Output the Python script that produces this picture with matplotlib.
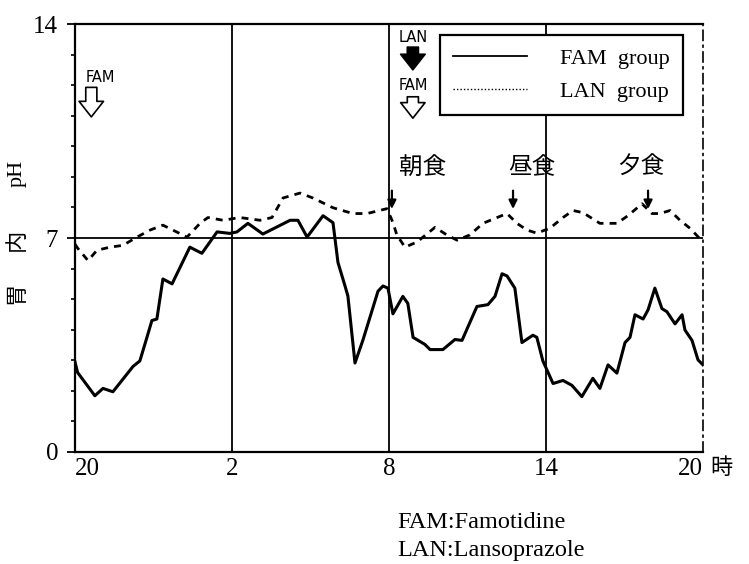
import matplotlib
matplotlib.use("Agg")
import matplotlib.pyplot as plt
from matplotlib.lines import Line2D

# ---- data (hours after 20:00) ----
fam_t = [0.0, 0.1, 0.76, 1.07, 1.45, 2.22, 2.48, 2.75, 2.94, 3.13, 3.36, 3.71, 4.39, 4.85,
         5.43, 5.92, 6.19, 6.61, 7.18, 8.22, 8.52, 8.87, 9.48, 9.86, 10.05, 10.32, 10.43,
         10.70, 11.0, 11.58, 11.77, 11.96, 12.15, 12.53, 12.72, 12.92, 13.37, 13.57, 14.06,
         14.52, 14.79, 15.36, 15.78, 16.05, 16.32, 16.51, 16.81, 17.08, 17.50, 17.65, 17.88,
         18.27, 18.65, 18.99, 19.37, 19.79, 20.06, 20.37, 20.71, 21.02, 21.21, 21.40, 21.71,
         21.90, 22.16, 22.43, 22.62, 22.93, 23.20, 23.31, 23.58, 23.81, 24.0]
fam_ph = [2.95, 2.6, 1.84, 2.08, 1.97, 2.8, 2.98, 3.75, 4.3, 4.35, 5.66, 5.5, 6.7, 6.5,
          7.2, 7.15, 7.2, 7.48, 7.13, 7.58, 7.58, 7.03, 7.73, 7.5, 6.2, 5.43, 5.1,
          2.91, 3.65, 5.26, 5.43, 5.36, 4.52, 5.09, 4.86, 3.75, 3.52, 3.35, 3.35,
          3.68, 3.65, 4.76, 4.82, 5.09, 5.83, 5.76, 5.36, 3.58, 3.82, 3.75, 2.98,
          2.24, 2.34, 2.18, 1.81, 2.41, 2.08, 2.85, 2.58, 3.58, 3.75, 4.49, 4.35,
          4.65, 5.36, 4.69, 4.59, 4.19, 4.49, 3.99, 3.65, 3.01, 2.85]

lan_t = [0.0, 0.11, 0.50, 0.84, 1.34, 1.83, 2.37, 2.87, 3.36, 3.74, 4.28, 4.78, 5.08, 5.66,
         6.30, 7.07, 7.53, 7.95, 8.60, 9.09, 9.86, 10.62, 11.16, 11.92, 12.15, 12.30, 12.61,
         13.07, 13.76, 14.21, 14.60, 15.09, 15.59, 16.13, 16.51, 16.89, 17.27, 17.65, 18.15,
         18.65, 19.03, 19.41, 20.06, 20.71, 21.13, 21.67, 22.05, 22.35, 22.74, 23.12, 23.50, 24.0]
lan_ph = [6.8, 6.66, 6.26, 6.6, 6.7, 6.76, 7.03, 7.26, 7.42, 7.26, 7.03, 7.48, 7.67, 7.58,
          7.67, 7.58, 7.67, 8.31, 8.47, 8.31, 7.99, 7.8, 7.8, 7.96, 7.51, 7.1, 6.7,
          6.87, 7.35, 7.1, 6.93, 7.1, 7.48, 7.67, 7.8, 7.48, 7.26, 7.16, 7.32,
          7.67, 7.9, 7.83, 7.48, 7.48, 7.73, 8.12, 7.8, 7.8, 7.9, 7.58, 7.32, 6.87]

x_ticks = [0, 6, 12, 18, 24]
x_labels = ["20", "2", "8", "14", "20"]
y_ticks = [0, 7, 14]
meal_labels = ["朝食", "昼食", "夕食"]
meal_times = [12.11, 16.74, 21.9]

serif = ["Liberation Serif", "Noto Sans CJK JP"]
cjk = ["Noto Sans CJK JP", "DejaVu Sans"]

fig = plt.figure(figsize=(7.49, 5.64), dpi=100)
ax = fig.add_axes([0.1001, 0.1986, 0.8385, 0.7588])
ax.set_xlim(0, 24)
ax.set_ylim(0, 14)

ax.plot(fam_t, fam_ph, color="black", lw=2.2, solid_joinstyle="round")
ax.plot(lan_t, lan_ph, color="black", lw=2.0, linestyle=(0, (2.5, 2.2)))

for xv in x_ticks[1:-1]:
    ax.axvline(xv, color="black", lw=1.3)
ax.axhline(7, color="black", lw=1.3)

for s in ["left", "top", "bottom"]:
    ax.spines[s].set_linewidth(1.6)
ax.spines["right"].set_linestyle((0, (6, 3, 1, 3)))
ax.spines["right"].set_linewidth(1.2)

ax.set_xticks(x_ticks)
ax.set_xticklabels(x_labels, family=serif, fontsize=18)
ax.tick_params(axis="x", length=0, pad=4)
xl = ax.get_xticklabels()
xl[0].set_horizontalalignment("left")
xl[-1].set_horizontalalignment("right")

ax.set_yticks(y_ticks)
ax.set_yticklabels([str(v) for v in y_ticks], family=serif, fontsize=18)
ax.set_yticks(range(0, 15), minor=True)
ax.tick_params(axis="y", which="major", length=6, width=1.3, pad=6)
ax.tick_params(axis="y", which="minor", length=3, width=1.2)

for lab, yy in zip(["胃", "内", "pH"], [0.371, 0.495, 0.650]):
    ax.text(-0.092, yy, lab, transform=ax.transAxes, rotation=90,
            ha="center", va="center", family=serif, fontsize=16)
ax.text(1.011, -0.037, "時", transform=ax.transAxes, ha="left", va="center",
        family=cjk, fontsize=16)

# legend
h1 = Line2D([], [], color="black", lw=1.3)
h2 = Line2D([], [], color="black", lw=1.0, linestyle=(0, (1, 1.5)))
leg = ax.legend([h1, h2], ["FAM  group", "LAN  group"], loc="upper left",
                bbox_to_anchor=(0.581, 0.974), fancybox=False, framealpha=1,
                edgecolor="black", prop={"family": "Liberation Serif", "size": 16},
                handlelength=3.3, handletextpad=1.5, borderpad=0.6, labelspacing=0.55,
                borderaxespad=0)
leg.get_frame().set_linewidth(1.6)

# dose annotations
def hollow(x, y0, y1, fc="white"):
    ax.annotate("", xy=(x, y1), xytext=(x, y0), xycoords="axes fraction",
                arrowprops=dict(arrowstyle="simple,head_length=0.7,head_width=1.1,tail_width=0.5",
                                fc=fc, ec="black", lw=1.2, mutation_scale=16,
                                shrinkA=0, shrinkB=0))

ax.text(0.040, 0.876, "FAM", transform=ax.transAxes, ha="center", va="center",
        family="DejaVu Sans", fontsize=10.5)
hollow(0.026, 0.852, 0.783)
ax.text(0.538, 0.968, "LAN", transform=ax.transAxes, ha="center", va="center",
        family="DejaVu Sans", fontsize=10.5)
hollow(0.538, 0.946, 0.893, fc="black")
ax.text(0.538, 0.857, "FAM", transform=ax.transAxes, ha="center", va="center",
        family="DejaVu Sans", fontsize=10.5)
hollow(0.538, 0.830, 0.780)

# meals
meal_text_x = [0.553, 0.728, 0.901]
for lab, tx, mt in zip(meal_labels, meal_text_x, meal_times):
    ax.text(tx, 0.664, lab, transform=ax.transAxes, ha="center", va="center",
            family=cjk, fontsize=17)
    ax.annotate("", xy=(mt, 7.95), xytext=(mt, 8.55), xycoords="data",
                arrowprops=dict(arrowstyle="-|>,head_length=0.5,head_width=0.25",
                                color="black", lw=1.6, shrinkA=0, shrinkB=0))

fig.text(0.530, 0.073, "FAM:Famotidine", ha="left", va="center",
         family="Liberation Serif", fontsize=17.5)
fig.text(0.530, 0.024, "LAN:Lansoprazole", ha="left", va="center",
         family="Liberation Serif", fontsize=17.5)

fig.savefig("out.png", dpi=100)
